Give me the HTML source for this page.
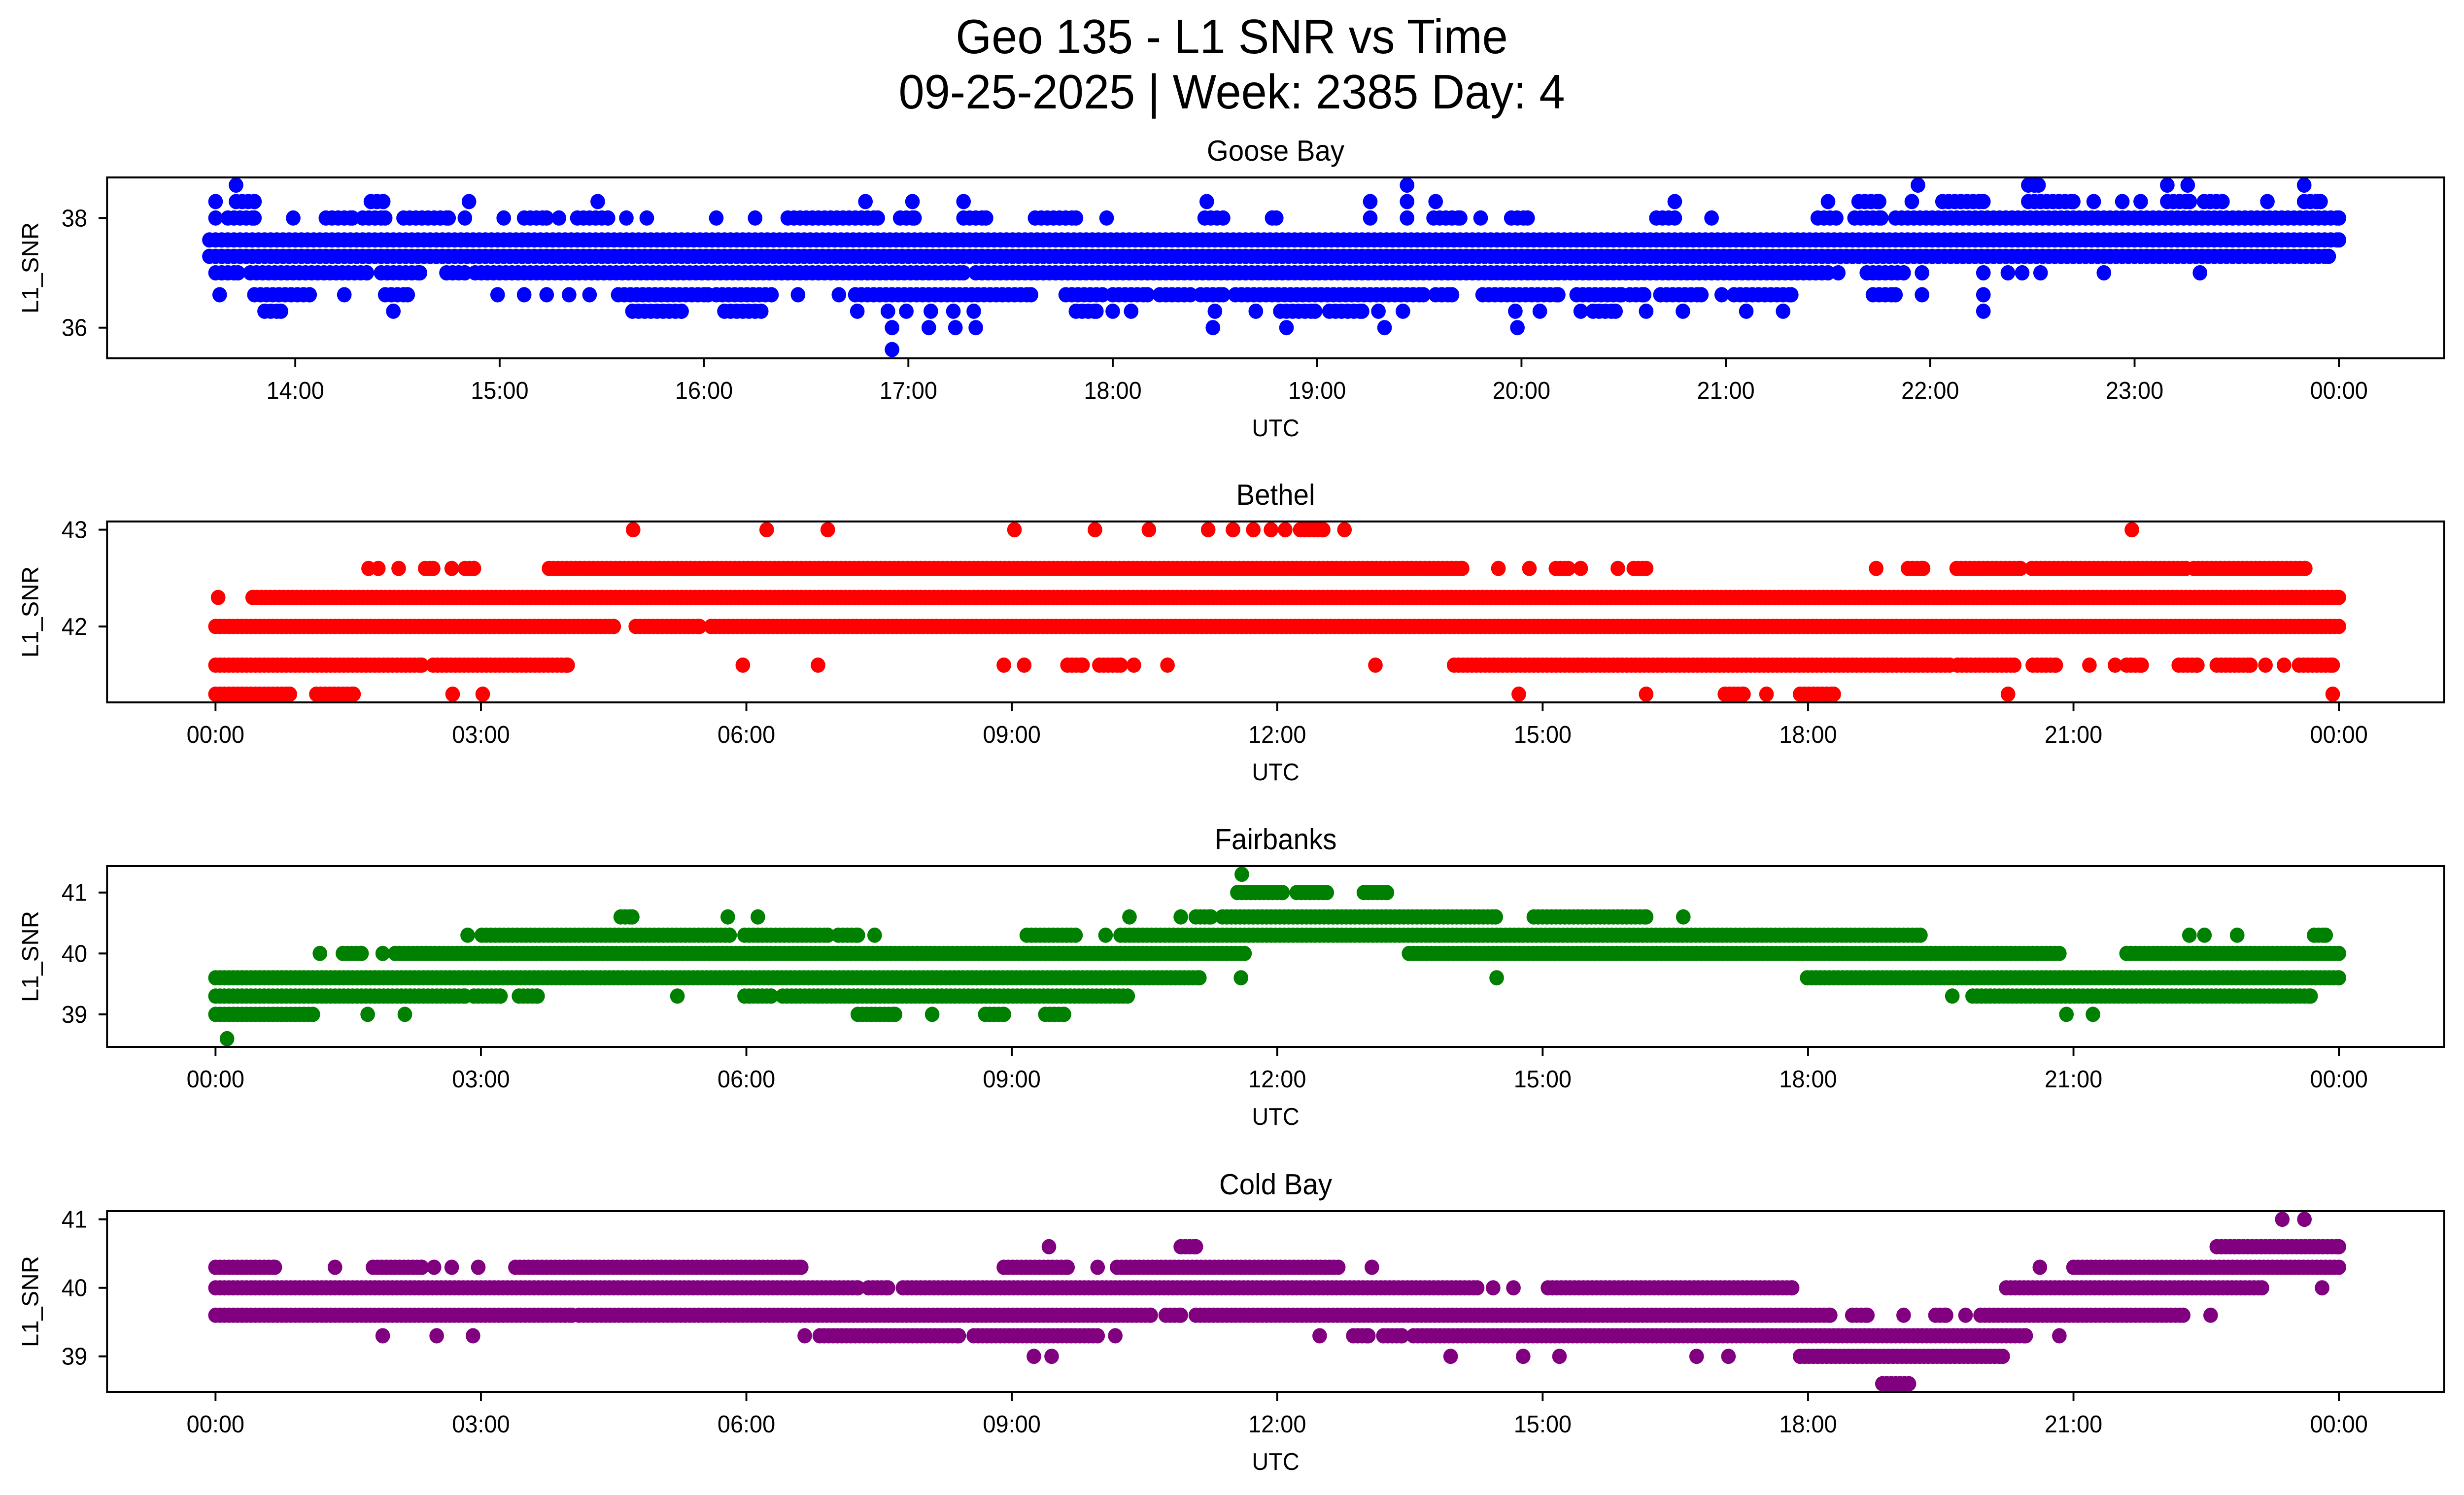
<!DOCTYPE html>
<html><head><meta charset="utf-8">
<style>
html,body{margin:0;padding:0;background:#fff;overflow:hidden;width:100%;height:100%;}
svg{display:block;width:100vw;height:100vh;font-family:"Liberation Sans","DejaVu Sans",sans-serif;}
</style></head>
<body>
<svg id="fig" viewBox="0 0 5225 3033" preserveAspectRatio="none" xmlns="http://www.w3.org/2000/svg">
<rect width="5225" height="3033" fill="#fff"/>
<text x="2612" y="108" font-size="98" text-anchor="middle">Geo 135 - L1 SNR vs Time</text>
<text x="2612" y="220" font-size="98" text-anchor="middle">09-25-2025 | Week: 2385 Day: 4</text>
</svg>
<script>
// ---- Data (hours UTC; single number = one sample, [a,b] = continuous run of samples) ----
const panelTitles = ["Goose Bay","Bethel","Fairbanks","Cold Bay"];
const panelColors = ["#0000ff","#ff0000","#008000","#800080"];

const gooseLevels = [38.6,38.3,38.0,37.6,37.3,37.0,36.6,36.3,36.0,35.6];
const gooseTimes = [
 [13.71,19.44,21.94,[22.48,22.53],23.16,23.26,23.83],
 [13.61,[13.71,13.80],[14.37,14.43],14.85,15.48,16.79,17.02,17.27,18.46,19.26,19.44,19.58,20.75,21.5,[21.65,21.75],21.91,[22.06,22.26],[22.48,22.70],22.8,22.94,23.03,[23.16,23.27],[23.34,23.43],23.65,[23.83,23.91]],
 [13.61,[13.67,13.80],13.99,[14.15,14.28],[14.33,14.44],[14.53,14.75],14.83,15.02,[15.12,15.23],15.29,[15.38,15.53],15.62,15.72,16.06,16.25,[16.41,16.85],[16.96,17.03],[17.27,17.38],[17.62,17.82],17.97,[18.45,18.54],[18.78,18.80],19.26,19.44,[19.57,19.70],19.8,[19.95,20.03],[20.66,20.75],20.93,[21.45,21.54],[21.63,21.76],[21.83,24.0]],
 [[13.58,24.0]],
 [[13.58,23.95]],
 [[13.61,13.72],[13.78,14.35],[14.42,14.61],[14.74,14.83],[14.88,17.27],[17.33,21.5],21.55,[21.69,21.87],21.96,22.26,22.38,22.45,22.54,22.85,23.32],
 [13.63,[13.80,14.07],14.24,[14.44,14.55],14.99,15.12,15.23,15.34,15.44,[15.58,16.02],[16.06,16.33],16.46,16.66,[16.74,17.60],[17.77,17.95],[18.0,18.17],[18.23,18.38],[18.43,18.54],[18.6,19.52],[19.58,19.66],[19.81,20.18],[20.27,20.49],[20.53,20.6],[20.68,20.88],20.98,[21.04,21.32],[21.72,21.83],21.96,22.26],
 [[13.85,13.93],14.48,[15.65,15.89],[16.1,16.28],16.75,16.9,16.99,17.11,17.22,17.32,[17.82,17.92],18.0,18.09,18.5,18.7,[18.82,18.99],[19.06,19.22],19.3,19.42,19.97,20.09,20.29,[20.35,20.46],20.61,20.79,21.1,21.28,22.26],
 [16.92,17.1,17.23,17.33,18.49,18.85,19.33,19.98],
 [16.92]
];

const bethelLevels = [43.0,42.6,42.3,42.0,41.6,41.3];
const bethelTimes = [
 [4.72,6.23,6.92,9.03,9.94,10.55,11.22,11.5,11.73,11.93,12.09,[12.26,12.52],12.76,21.66],
 [1.73,1.84,2.07,[2.37,2.46],2.67,[2.82,2.92],[3.77,14.09],14.5,14.85,[15.15,15.29],15.43,15.85,[16.03,16.17],18.77,[19.13,19.3],[19.68,20.4],[20.53,22.27],[22.36,23.62]],
 [0.03,[0.42,24.0]],
 [[0,4.5],[4.75,5.47],[5.6,24.0]],
 [[0,2.33],[2.46,3.98],5.96,6.81,8.91,9.14,[9.63,9.8],[9.99,10.23],10.38,10.76,13.11,[14.0,19.6],[19.69,20.33],[20.54,20.8],21.18,21.47,[21.6,21.77],[22.19,22.4],[22.62,23.0],23.17,23.38,[23.55,23.93]],
 [[0,0.84],[1.14,1.56],2.68,3.02,14.73,16.17,[17.06,17.27],17.53,[17.91,18.29],20.26,23.93]
];

const fairLevels = [41.3,41.0,40.6,40.3,40.0,39.6,39.3,39.0,38.6];
const fairTimes = [
 [11.6],
 [[11.55,12.06],[12.22,12.56],[12.98,13.24]],
 [[4.58,4.71],5.79,6.13,10.33,10.91,[11.08,11.25],[11.38,14.47],[14.9,16.17],16.59],
 [2.85,[3.01,5.81],[5.98,6.92],[7.04,7.26],7.45,[9.17,9.72],10.06,[10.23,19.27],22.31,22.48,22.85,[23.72,23.85]],
 [1.18,[1.44,1.65],1.89,[2.03,11.63],[13.49,20.84],[21.6,24.0]],
 [[0,11.12],11.59,14.48,[17.99,24.0]],
 [[0,2.82],[2.92,3.22],[3.43,3.64],5.22,[5.98,6.28],[6.41,10.31],19.63,[19.86,23.68]],
 [[0,1.1],1.72,2.14,[7.26,7.68],8.1,[8.7,8.91],[9.38,9.59],20.92,21.22],
 [0.13]
];

const coldLevels = [41.0,40.6,40.3,40.0,39.6,39.3,39.0,38.6];
const coldTimes = [
 [23.36,23.61],
 [9.42,[10.91,11.08],[22.62,24.0]],
 [[0,0.67],1.35,[1.78,2.33],2.47,2.67,2.97,[3.39,6.62],[8.91,9.63],9.97,[10.19,12.69],13.07,20.62,[21.0,24.0]],
 [[0,7.26],[7.38,7.6],[7.77,14.26],14.44,14.67,[15.06,17.82],[20.24,23.13],23.81],
 [[0,4.03],[4.11,10.57],[10.74,10.91],[11.08,18.25],[18.5,18.67],19.08,[19.44,19.56],19.78,[19.95,22.24],22.55],
 [1.89,2.5,2.91,6.66,[6.83,8.4],[8.57,9.97],10.17,12.48,[12.86,13.03],[13.2,13.41],[13.54,20.46],20.84],
 [9.25,9.45,13.96,14.78,15.19,16.74,17.1,[17.91,20.2]],
 [[18.84,19.14]]
];

const xTickHours1 = [14,15,16,17,18,19,20,21,22,23,24];
const xTickLabels1 = ["14:00","15:00","16:00","17:00","18:00","19:00","20:00","21:00","22:00","23:00","00:00"];
const xTickHours2 = [0,3,6,9,12,15,18,21,24];
const xTickLabels2 = ["00:00","03:00","06:00","09:00","12:00","15:00","18:00","21:00","00:00"];
const yTicks1 = [36,38];
const yTicks2 = [42,43];
const yTicks3 = [39,40,41];
const yTicks4 = [39,40,41];

// ---- Layout ----
const NS = "http://www.w3.org/2000/svg";
const svg = document.getElementById("fig");
const L = 227, R = 5183, H = 367;
const tops = [360,1058,1757,2457];
const xlims = [[13.079,24.515],[-1.226,25.19],[-1.226,25.19],[-1.226,25.19]];
const ylims = [[35.44,38.74],[41.215,43.085],[38.465,41.435],[38.48,41.12]];
const levelsAll = [gooseLevels,bethelLevels,fairLevels,coldLevels];
const timesAll = [gooseTimes,bethelTimes,fairTimes,coldTimes];
const yTicksAll = [yTicks1,yTicks2,yTicks3,yTicks4];
const steps = [0.03,0.05,0.05,0.05];

function el(tag, attrs, parent){
  const e = document.createElementNS(NS, tag);
  for (const k in attrs) e.setAttribute(k, attrs[k]);
  (parent||svg).appendChild(e);
  return e;
}

for (let p = 0; p < 4; p++) {
  const top = tops[p], bot = top + H;
  const [x0,x1] = xlims[p], [y0,y1] = ylims[p];
  const xs = h => L + (h - x0) / (x1 - x0) * (R - L);
  const ys = v => bot - (v - y0) / (y1 - y0) * H;
  const g = el("g", {});
  
  

  const pts = el("g", {fill: panelColors[p]}, g);
  
  
  const lv = levelsAll[p], tm = timesAll[p], st = steps[p];
  for (let i = 0; i < lv.length; i++) {
    const cy = ys(lv[i]);
    for (const t of tm[i]) {
      const samples = [];
      if (Array.isArray(t)) { for (let h = t[0]; h <= t[1] + 1e-9; h += st) samples.push(h); if (samples[samples.length-1] < t[1]) samples.push(t[1]); }
      else samples.push(t);
      for (const h of samples) {
        const c = el("circle", {cx: xs(h).toFixed(1), cy: cy.toFixed(1), r: 15.5}, pts);
        
        
      }
    }
  }

  const fr = el("rect", {x: L, y: top, width: R - L, height: H, fill: "none", stroke: "#000", "stroke-width": 4}, g);
  
  

  const th = p === 0 ? xTickHours1 : xTickHours2;
  const tl = p === 0 ? xTickLabels1 : xTickLabels2;
  for (let i = 0; i < th.length; i++) {
    const x = xs(th[i]);
    const tk = el("line", {x1: x, x2: x, y1: bot, y2: bot + 18, stroke: "#000", "stroke-width": 4}, g);
    
    
    const lb = el("text", {x: x, y: bot + 82, "font-size": 49, "text-anchor": "middle"}, g);
    lb.textContent = tl[i];
    
    
  }
  for (const v of yTicksAll[p]) {
    const y = ys(v);
    const tk = el("line", {x1: L - 18, x2: L, y1: y, y2: y, stroke: "#000", "stroke-width": 4}, g);
    
    
    const lb = el("text", {x: L - 42, y: y + 17, "font-size": 49, "text-anchor": "end"}, g);
    lb.textContent = String(v);
    
    
  }
  const xl = el("text", {x: (L + R) / 2, y: bot + 158, "font-size": 49, "text-anchor": "middle"}, g);
  xl.textContent = "UTC";
  
  
  const yl = el("text", {x: 0, y: 0, "font-size": 49, "text-anchor": "middle", transform: `translate(81,${top + H/2}) rotate(-90)`}, g);
  yl.textContent = "L1_SNR";
  
  
  const tt = el("text", {x: (L + R) / 2, y: top - 34, "font-size": 59, "text-anchor": "middle"}, g);
  tt.textContent = panelTitles[p];
  
  
}
</script>
</body></html>
